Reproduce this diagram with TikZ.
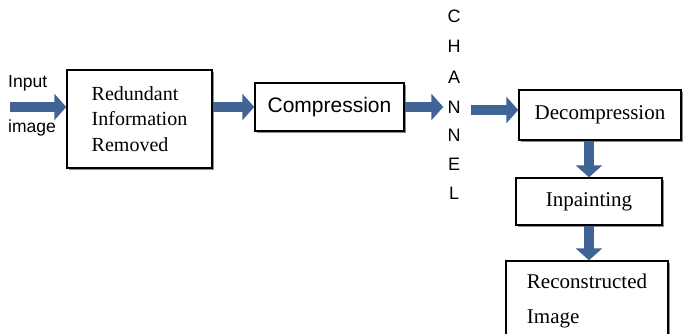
\documentclass[tikz,border=0pt]{standalone}
\usepackage{fontspec}
\setmainfont{Liberation Serif}
\setsansfont{Liberation Sans}
\usetikzlibrary{arrows.meta,shadows}
\definecolor{arrowblue}{RGB}{65,100,150}
\tikzset{
  boxnode/.style={draw=black, line width=1.4pt, fill=white, inner sep=0pt,
    drop shadow={shadow xshift=2pt, shadow yshift=-2pt, fill=black!45, opacity=1},
    font=\fontsize{21}{25.5}\selectfont},
  sanslabel/.style={inner sep=0pt, font=\sffamily\fontsize{17.5}{20}\selectfont},
  letter/.style={inner sep=0pt, font=\sffamily\fontsize{18}{20}\selectfont},
  barrow/.style={draw=arrowblue, line width=10pt,
    -{Triangle[length=12pt,width=26pt,fill=arrowblue]}}
}
\begin{document}
\begin{tikzpicture}[x=1pt,y=-1pt]
\useasboundingbox (0,0) rectangle (684,333);
\clip (0,0) rectangle (684,333);
\fill[white] (0,0) rectangle (684,333);
% boxes
\node[boxnode, minimum width=145pt, minimum height=98pt, align=left, font=\fontsize{20}{25.5}\selectfont] (red) at (139.5,119)
  {Redundant\\Information\\Removed};
\node[boxnode, minimum width=149pt, minimum height=48pt, font=\sffamily\fontsize{21}{24}\selectfont] (comp) at (329.5,107) {Compression};
\node[boxnode, minimum width=162pt, minimum height=50pt] (dec) at (600,115) {Decompression};
\node[boxnode, minimum width=146pt, minimum height=47pt] (inp) at (589,201.5) {Inpainting};
\node[boxnode, minimum width=162pt, minimum height=80pt, align=left, font=\fontsize{21}{35}\selectfont] (rec) at (587,301) {Reconstructed\\Image};
% labels
\node[sanslabel, anchor=west] (inlbl) at (8,83) {Input};
\node[sanslabel, anchor=west] (imlbl) at (8,128) {image};
\node[letter] (c1) at (454,16) {C};
\node[letter] (h1) at (454,46) {H};
\node[letter] (a1) at (454,77) {A};
\node[letter] (n1) at (454,107) {N};
\node[letter] (n2) at (454,135) {N};
\node[letter] (e1) at (454,164) {E};
\node[letter] (l1) at (454,193) {L};
% arrows
\coordinate (inA) at (10,107);
\coordinate (chOut) at ([xshift=10pt,yshift=-3pt]n1.east);
\draw[barrow] (inA) -- (red.west |- inA);
\draw[barrow] (red.east |- comp.west) -- (comp.west);
\draw[barrow] (comp.east) -- ([xshift=-4pt]n1.west);
\draw[barrow] (chOut) -- (dec.west |- chOut);
\draw[barrow] (inp.north |- dec.south) -- (inp.north);
\draw[barrow] (inp.south) -- (inp.south |- rec.north);
\end{tikzpicture}
\end{document}
